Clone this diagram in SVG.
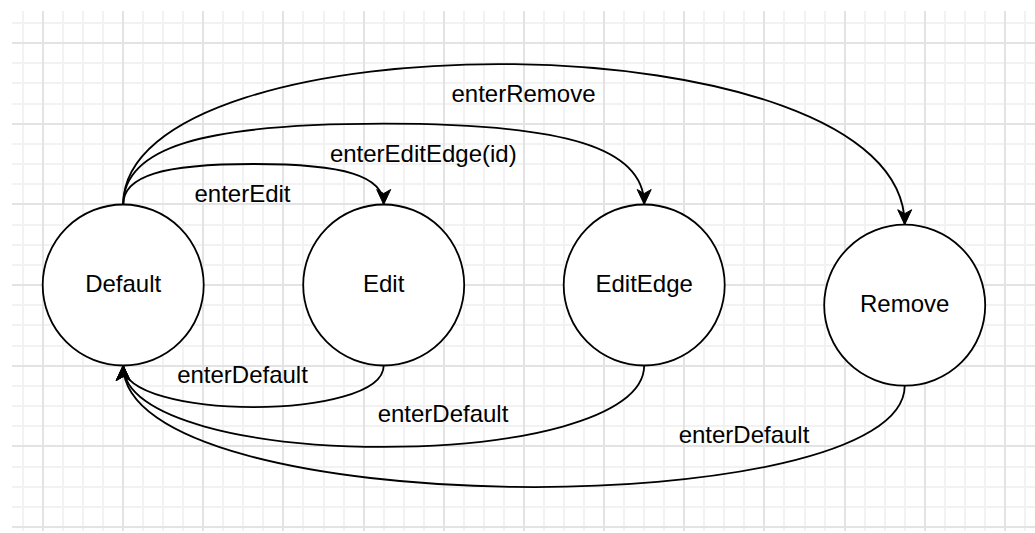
<svg xmlns="http://www.w3.org/2000/svg" width="1035" height="533" viewBox="0 0 1035 533">
  <style>
    .minor { stroke: #f2f2f2; stroke-width: 2; fill: none; }
    .major { stroke: #e3e3e3; stroke-width: 2; fill: none; }
    .state { fill: #ffffff; stroke: #000000; stroke-width: 1.8; }
    .edge { fill: none; stroke: #000000; stroke-width: 1.8; marker-end: url(#arrow); }
    text { font-family: "Liberation Sans", Arial, sans-serif; font-size: 24px; fill: #000000; text-anchor: middle; }
  </style>
  <defs>
    <!-- classic notched arrowhead, tip at the path end -->
    <marker id="arrow" markerUnits="userSpaceOnUse" viewBox="-17 -9 18 18" markerWidth="18" markerHeight="18" refX="0" refY="0" orient="auto">
      <path d="M0,0 L-15,-7 L-11,0 L-15,7 Z" fill="#000000" stroke="#000000" stroke-width="1" stroke-linejoin="miter"/>
    </marker>
  </defs>

  <rect x="0" y="0" width="1035" height="533" fill="#ffffff"/>

  <!-- background grid: 20px cells, heavier line every 4 cells -->
  <g id="grid">
    <path class="minor" d="M23,11V531 M63,11V531 M83,11V531 M103,11V531 M143,11V531 M163,11V531 M183,11V531 M223,11V531 M243,11V531 M263,11V531 M303,11V531 M324,11V531 M344,11V531 M384,11V531 M404,11V531 M424,11V531 M464,11V531 M484,11V531 M504,11V531 M544,11V531 M564,11V531 M584,11V531 M624,11V531 M644,11V531 M664,11V531 M704,11V531 M724,11V531 M744,11V531 M784,11V531 M805,11V531 M825,11V531 M865,11V531 M885,11V531 M905,11V531 M945,11V531 M965,11V531 M985,11V531 M1025,11V531"/>
    <path class="minor" d="M12,23H1035 M12,63H1035 M12,83H1035 M12,104H1035 M12,144H1035 M12,164H1035 M12,184H1035 M12,225H1035 M12,245H1035 M12,265H1035 M12,305H1035 M12,325H1035 M12,346H1035 M12,386H1035 M12,406H1035 M12,426H1035 M12,467H1035 M12,487H1035 M12,507H1035"/>
    <path class="major" d="M43,11V531 M123,11V531 M203,11V531 M283,11V531 M364,11V531 M444,11V531 M524,11V531 M604,11V531 M684,11V531 M764,11V531 M845,11V531 M925,11V531 M1005,11V531"/>
    <path class="major" d="M12,43H1035 M12,124H1035 M12,204H1035 M12,285H1035 M12,366H1035 M12,446H1035 M12,527H1035"/>
  </g>

  <!-- transitions -->
  <g id="connectors">
    <path id="e-enterEdit" class="edge" d="M123.2,204.5 C123.2,176 162,164 253.5,164 C345,164 383.7,176 383.7,204.5"/>
    <path id="e-enterEditEdge" class="edge" d="M123.2,204.5 C123.2,148 201,123.7 383.7,123.7 C566,123.7 644.2,148 644.2,204.5"/>
    <path id="e-enterRemove" class="edge" d="M123.2,204.5 C123.2,14 904.7,14 904.7,224.7"/>
    <path id="e-edit-default" class="edge" d="M383.7,365.5 C383.7,421 123.2,421 123.2,365.5"/>
    <path id="e-editedge-default" class="edge" d="M644.2,365.5 C644.2,474 123.2,474 123.2,365.5"/>
    <path id="e-remove-default" class="edge" d="M904.7,385.7 C904.7,524 123.2,524 123.2,365.5"/>
  </g>

  <g id="connector-labels">
    <text x="242.5" y="202">enterEdit</text>
    <text x="423.3" y="162">enterEditEdge(id)</text>
    <text x="523.5" y="102">enterRemove</text>
    <text x="242.5" y="383">enterDefault</text>
    <text x="443" y="421.5">enterDefault</text>
    <text x="744" y="443">enterDefault</text>
  </g>

  <!-- states -->
  <g id="state-default">
    <circle class="state" cx="123.2" cy="285" r="80.5"/>
    <text x="123.2" y="292">Default</text>
  </g>
  <g id="state-edit">
    <circle class="state" cx="383.7" cy="285" r="80.5"/>
    <text x="383.7" y="292">Edit</text>
  </g>
  <g id="state-editedge">
    <circle class="state" cx="644.2" cy="285" r="80.5"/>
    <text x="644.2" y="292">EditEdge</text>
  </g>
  <g id="state-remove">
    <circle class="state" cx="904.7" cy="305.2" r="80.5"/>
    <text x="904.7" y="312">Remove</text>
  </g>
</svg>
